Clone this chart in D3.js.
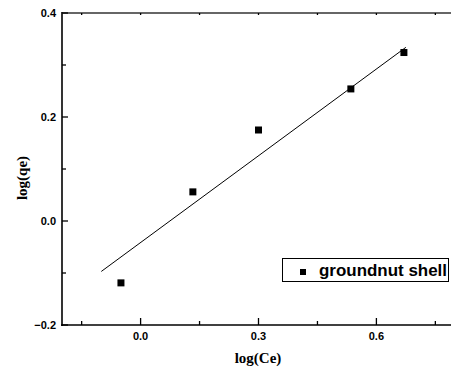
<!DOCTYPE html>
<html>
<head>
<meta charset="utf-8">
<script src="https://cdn.jsdelivr.net/npm/d3@7"></script>
<style>
  body { margin: 0; background: #fff; }
  svg { display: block; }
</style>
</head>
<body>
<svg id="chart" width="451" height="371"></svg>
<script>
// data
const logCe = [-0.05, 0.133, 0.30, 0.535, 0.67];
const logQe = [-0.119, 0.056, 0.175, 0.254, 0.324];
const fitX = [-0.10, 0.675];
const fitY = [-0.097, 0.334];
const xMajor = [0.0, 0.3, 0.6];
const xMinor = [-0.15, 0.15, 0.45, 0.75];
const yMajor = [-0.2, 0.0, 0.2, 0.4];
const yMinor = [-0.1, 0.1, 0.3];
const seriesName = 'groundnut shell';

const svg = d3.select('#chart');
const x = d3.scaleLinear().domain([-0.2, 0.8]).range([62, 455]);
const y = d3.scaleLinear().domain([-0.2, 0.4]).range([325, 13]);
const fmt = d3.format('.1f');

// frame
const frame = svg.append('g').attr('stroke', '#000').attr('stroke-width', 1.6);
frame.append('line').attr('x1', 62).attr('x2', 62).attr('y1', 12).attr('y2', 326);
frame.append('line').attr('x1', 61).attr('x2', 455).attr('y1', 325).attr('y2', 325);
frame.append('line').attr('x1', 61).attr('x2', 455).attr('y1', 13).attr('y2', 13).attr('stroke', '#333');

// ticks (inward)
const ticks = svg.append('g').attr('stroke', '#000').attr('stroke-width', 1.3);
ticks.selectAll('.xmaj').data(xMajor).enter().append('line')
  .attr('x1', d => x(d)).attr('x2', d => x(d)).attr('y1', 325).attr('y2', 318);
ticks.selectAll('.xmin').data(xMinor).enter().append('line')
  .attr('x1', d => x(d)).attr('x2', d => x(d)).attr('y1', 325).attr('y2', 321);
ticks.selectAll('.xtop').data(xMajor.concat(xMinor)).enter().append('line')
  .attr('x1', d => x(d)).attr('x2', d => x(d)).attr('y1', 13).attr('y2', 15);
ticks.selectAll('.ymaj').data(yMajor).enter().append('line')
  .attr('x1', 62).attr('x2', 68).attr('y1', d => y(d)).attr('y2', d => y(d));
ticks.selectAll('.ymin').data(yMinor).enter().append('line')
  .attr('x1', 62).attr('x2', 66).attr('y1', d => y(d)).attr('y2', d => y(d));

// tick labels
const lab = svg.append('g')
  .attr('font-family', 'Liberation Sans, Arial, sans-serif')
  .attr('font-weight', 'bold').attr('font-size', 11).attr('fill', '#000');
lab.selectAll('.xl').data(xMajor).enter().append('text')
  .attr('x', d => x(d)).attr('y', 340).attr('text-anchor', 'middle').text(fmt);
lab.selectAll('.yl').data(yMajor).enter().append('text')
  .attr('x', 56).attr('y', d => y(d) + 4).attr('text-anchor', 'end').text(fmt);

// axis titles
svg.append('text').attr('x', 258).attr('y', 363)
  .attr('text-anchor', 'middle').attr('font-family', 'Liberation Serif, Times New Roman, serif')
  .attr('font-weight', 'bold').attr('font-size', 15).text('log(Ce)');
svg.append('text').attr('transform', 'translate(27,178) rotate(-90)')
  .attr('text-anchor', 'middle').attr('font-family', 'Liberation Serif, Times New Roman, serif')
  .attr('font-weight', 'bold').attr('font-size', 15).text('log(qe)');

// fitted line
const line = d3.line().x(d => x(d[0])).y(d => y(d[1]));
svg.append('path').datum(d3.zip(fitX, fitY)).attr('d', line)
  .attr('fill', 'none').attr('stroke', '#000').attr('stroke-width', 1);

// points
svg.selectAll('.pt').data(d3.zip(logCe, logQe)).enter().append('rect')
  .attr('x', d => x(d[0]) - 3.5).attr('y', d => y(d[1]) - 3.5)
  .attr('width', 7).attr('height', 7).attr('fill', '#000');

// legend
svg.append('rect').attr('x', 282.5).attr('y', 258.5).attr('width', 166).attr('height', 23)
  .attr('fill', '#fff').attr('stroke', '#000').attr('stroke-width', 1);
svg.append('rect').attr('x', 300).attr('y', 269).attr('width', 6).attr('height', 6).attr('fill', '#000');
svg.append('text').attr('x', 319).attr('y', 276)
  .attr('font-family', 'Liberation Sans, Arial, sans-serif').attr('font-weight', 'bold')
  .attr('font-size', 16).attr('textLength', 128).attr('lengthAdjust', 'spacingAndGlyphs')
  .text(seriesName);
</script>
</body>
</html>
